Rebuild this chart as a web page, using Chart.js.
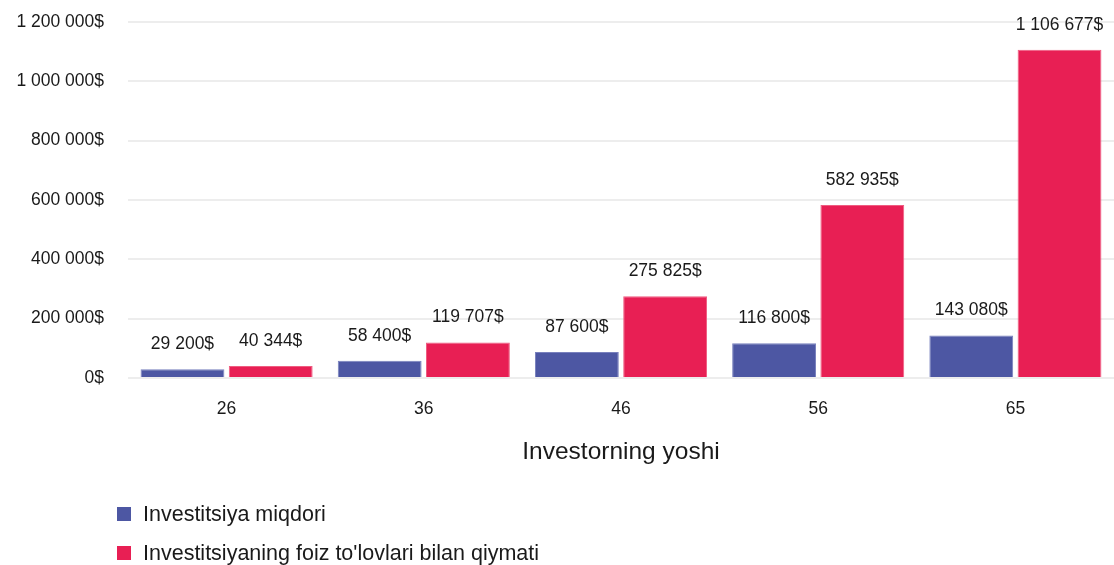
<!DOCTYPE html>
<html>
<head>
<meta charset="utf-8">
<script src="https://cdn.jsdelivr.net/npm/chart.js@4"></script>
<style>
  html, body { margin: 0; padding: 0; background: #fff; }
  #wrap { width: 1114px; height: 565px; }
</style>
</head>
<body>
<div id="wrap"><canvas id="chart" width="1114" height="565"></canvas></div>
<script>
const ages = ["26", "36", "46", "56", "65"];
const invested = [29200, 58400, 87600, 116800, 143080];
const withInterest = [40344, 119707, 275825, 582935, 1106677];
const seriesNames = ["Investitsiya miqdori", "Investitsiyaning foiz to'lovlari bilan qiymati"];
const axisTitle = "Investorning yoshi";

const BLUE = "#4d57a3";
const RED = "#e81f54";
const FONT = "'Liberation Sans', Arial, sans-serif";

function money(v) {
  return String(Math.round(v)).replace(/\B(?=(\d{3})+(?!\d))/g, " ") + "$";
}

// values above each bar
const barLabels = {
  id: "barLabels",
  afterDatasetsDraw(chart) {
    const ctx = chart.ctx;
    ctx.save();
    ctx.font = "17.5px " + FONT;
    ctx.fillStyle = "#1a1a1a";
    ctx.textAlign = "center";
    ctx.textBaseline = "middle";
    chart.data.datasets.forEach((ds, i) => {
      chart.getDatasetMeta(i).data.forEach((bar, j) => {
        ctx.fillText(money(ds.data[j]), bar.x, bar.y - 25);
      });
    });
    ctx.restore();
  }
};

// stacked legend at bottom left
const stackedLegend = {
  id: "stackedLegend",
  afterDraw(chart) {
    const ctx = chart.ctx;
    ctx.save();
    ctx.font = "21.5px " + FONT;
    ctx.textBaseline = "middle";
    chart.data.datasets.forEach((ds, i) => {
      const y = 514 + i * 39;
      ctx.fillStyle = ds.backgroundColor;
      ctx.fillRect(117, y - 7, 14, 14);
      ctx.fillStyle = "#1a1a1a";
      ctx.fillText(ds.label, 143, y + 1);
    });
    ctx.restore();
  }
};

new Chart(document.getElementById("chart"), {
  type: "bar",
  data: {
    labels: ages,
    datasets: [
      { label: seriesNames[0], data: invested, backgroundColor: BLUE, borderColor: "#7880bd", borderWidth: 1 },
      { label: seriesNames[1], data: withInterest, backgroundColor: RED, borderColor: "#ef5c80", borderWidth: 1 }
    ]
  },
  options: {
    responsive: false,
    animation: false,
    categoryPercentage: 0.895,
    barPercentage: 0.95,
    layout: { padding: { top: 22, right: 0, bottom: 98, left: 0 } },
    plugins: {
      legend: { display: false },
      tooltip: { enabled: false }
    },
    scales: {
      x: {
        grid: { display: false, drawTicks: false },
        border: { display: false },
        ticks: { color: "#1a1a1a", font: { family: FONT, size: 17.5 }, padding: 21 },
        title: {
          display: true,
          text: axisTitle,
          color: "#1a1a1a",
          font: { family: FONT, size: 24.5 },
          padding: { top: 0, bottom: 0 }
        },
        afterFit(scale) { scale.height = 89; }
      },
      y: {
        min: 0,
        max: 1200000,
        grid: { color: "#ededed", lineWidth: 2, drawTicks: false },
        border: { display: false },
        ticks: {
          stepSize: 200000,
          color: "#1a1a1a",
          font: { family: FONT, size: 17.5 },
          padding: 24,
          callback: v => money(v)
        },
        afterFit(scale) {
          scale.width = 128;
          // tick padding is meant horizontally only
          scale.paddingTop = 11;
          scale.paddingBottom = 0;
        }
      }
    }
  },
  plugins: [barLabels, stackedLegend]
});
</script>
</body>
</html>
